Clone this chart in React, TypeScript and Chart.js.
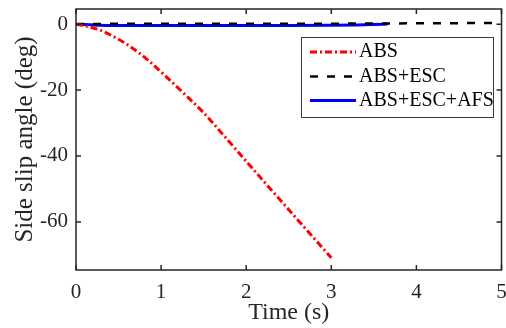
import { useEffect, useRef } from "react";
import { Chart, registerables } from "chart.js";

Chart.register(...registerables);

// ---- Data ----
const timeABS = [0, 0.25, 0.5, 0.75, 1, 1.25, 1.5, 1.75, 2, 2.25, 2.5, 2.75, 3];
const slipABS = [0, -1.5, -4.6, -8.9, -14.5, -20.6, -26.9, -34.2, -41.6, -49.0, -56.3, -63.6, -70.9];

const timeESC = [0, 0.5, 1, 2, 3, 4, 4.5, 5];
const slipESC = [0, 0.1, 0.1, 0.1, 0.15, 0.25, 0.3, 0.4];

const timeAFS = [0, 0.1, 0.25, 0.5, 1, 1.5, 2, 2.5, 3, 3.3, 3.5, 3.66];
const slipAFS = [0, -0.1, -0.3, -0.4, -0.4, -0.4, -0.4, -0.4, -0.35, -0.25, -0.1, 0.05];

const seriesNames = ["ABS", "ABS+ESC", "ABS+ESC+AFS"];
const xTicks = [0, 1, 2, 3, 4, 5];
const yTicks = [-60, -40, -20, 0];
const xTitle = "Time (s)";
const yTitle = "Side slip angle (deg)";

const AXIS_COLOR = "#262626";
const FONT = "'Liberation Serif', 'Times New Roman', serif";

const toPoints = (xs: number[], ys: number[]) => xs.map((x, i) => ({ x, y: ys[i] }));

const styles = [
  { color: "#ff0000", width: 3, dash: [7, 3, 2, 3] },
  { color: "#000000", width: 2.5, dash: [8, 9] },
  { color: "#0000ff", width: 3, dash: [] as number[] },
];

const framePlugin = {
  id: "matlabFrame",
  afterDraw(chart: any) {
    const { ctx, chartArea: a, scales } = chart;
    const xs = scales.x;
    const ys = scales.y;
    ctx.save();
    ctx.strokeStyle = AXIS_COLOR;
    ctx.lineWidth = 1.5;
    ctx.setLineDash([]);
    ctx.strokeRect(a.left, a.top, a.right - a.left, a.bottom - a.top);
    ctx.beginPath();
    for (const v of xTicks) {
      const px = xs.getPixelForValue(v);
      ctx.moveTo(px, a.bottom);
      ctx.lineTo(px, a.bottom - 5);
      ctx.moveTo(px, a.top);
      ctx.lineTo(px, a.top + 5);
    }
    for (const v of yTicks) {
      const py = ys.getPixelForValue(v);
      ctx.moveTo(a.left, py);
      ctx.lineTo(a.left + 5, py);
      ctx.moveTo(a.right, py);
      ctx.lineTo(a.right - 5, py);
    }
    ctx.stroke();

    // Legend
    const bx = 301, by = 37, bw = 192, bh = 80;
    ctx.fillStyle = "#ffffff";
    ctx.fillRect(bx, by, bw, bh);
    ctx.strokeStyle = "#3a3a3a";
    ctx.lineWidth = 1;
    ctx.strokeRect(bx + 0.5, by + 0.5, bw, bh);
    const rows = [52, 76.5, 100.5];
    ctx.font = `20px ${FONT}`;
    ctx.textBaseline = "middle";
    ctx.textAlign = "left";
    seriesNames.forEach((name, i) => {
      const s = styles[i];
      ctx.beginPath();
      ctx.strokeStyle = s.color;
      ctx.lineWidth = s.width;
      ctx.setLineDash(s.dash);
      ctx.moveTo(310, rows[i]);
      ctx.lineTo(356, rows[i]);
      ctx.stroke();
      ctx.setLineDash([]);
      ctx.fillStyle = "#000000";
      ctx.fillText(name, 359, rows[i]);
    });
    ctx.restore();
  },
};

export default function App() {
  const canvasRef = useRef<HTMLCanvasElement | null>(null);

  useEffect(() => {
    const canvas = canvasRef.current;
    if (!canvas) return;
    const data = [
      toPoints(timeABS, slipABS),
      toPoints(timeESC, slipESC),
      toPoints(timeAFS, slipAFS),
    ];
    const chart = new Chart(canvas, {
      type: "line",
      data: {
        datasets: seriesNames.map((name, i) => ({
          label: name,
          data: data[i],
          borderColor: styles[i].color,
          backgroundColor: styles[i].color,
          borderWidth: styles[i].width,
          borderDash: styles[i].dash,
          pointRadius: 0,
          cubicInterpolationMode: "monotone" as const,
          fill: false,
        })),
      },
      options: {
        animation: false,
        responsive: false,
        devicePixelRatio: 1,
        layout: { padding: { top: 9, right: 4.5, left: 0, bottom: 0 } },
        plugins: {
          legend: { display: false },
          tooltip: { enabled: false },
        },
        scales: {
          x: {
            type: "linear",
            min: 0,
            max: 5,
            grid: { display: false, drawTicks: false },
            border: { display: false },
            afterBuildTicks: (s: any) => {
              s.ticks = xTicks.map((v) => ({ value: v }));
            },
            afterFit: (s: any) => {
              s.height = 58;
              s.paddingLeft = 0;
              s.paddingRight = 0;
            },
            ticks: {
              padding: 10,
              color: AXIS_COLOR,
              font: { family: FONT, size: 21 },
              maxRotation: 0,
              autoSkip: false,
            },
            title: {
              display: true,
              text: xTitle,
              color: AXIS_COLOR,
              font: { family: FONT, size: 24 },
              padding: { top: 0, bottom: 1 },
            },
          },
          y: {
            type: "linear",
            min: -74.6,
            max: 4.6,
            grid: { display: false, drawTicks: false },
            border: { display: false },
            afterBuildTicks: (s: any) => {
              s.ticks = yTicks.map((v) => ({ value: v }));
            },
            afterFit: (s: any) => {
              s.width = 76;
              s.paddingTop = 0;
              s.paddingBottom = 0;
            },
            ticks: {
              padding: 8,
              color: AXIS_COLOR,
              font: { family: FONT, size: 21 },
              autoSkip: false,
            },
            title: {
              display: true,
              text: yTitle,
              color: AXIS_COLOR,
              font: { family: FONT, size: 25 },
              padding: { top: 10, bottom: 0 },
            },
          },
        },
      },
      plugins: [framePlugin],
    });
    return () => chart.destroy();
  }, []);

  return (
    <div style={{ position: "absolute", left: 0, top: 0, width: 506, height: 328, background: "#ffffff" }}>
      <canvas ref={canvasRef} width={506} height={328} />
    </div>
  );
}
